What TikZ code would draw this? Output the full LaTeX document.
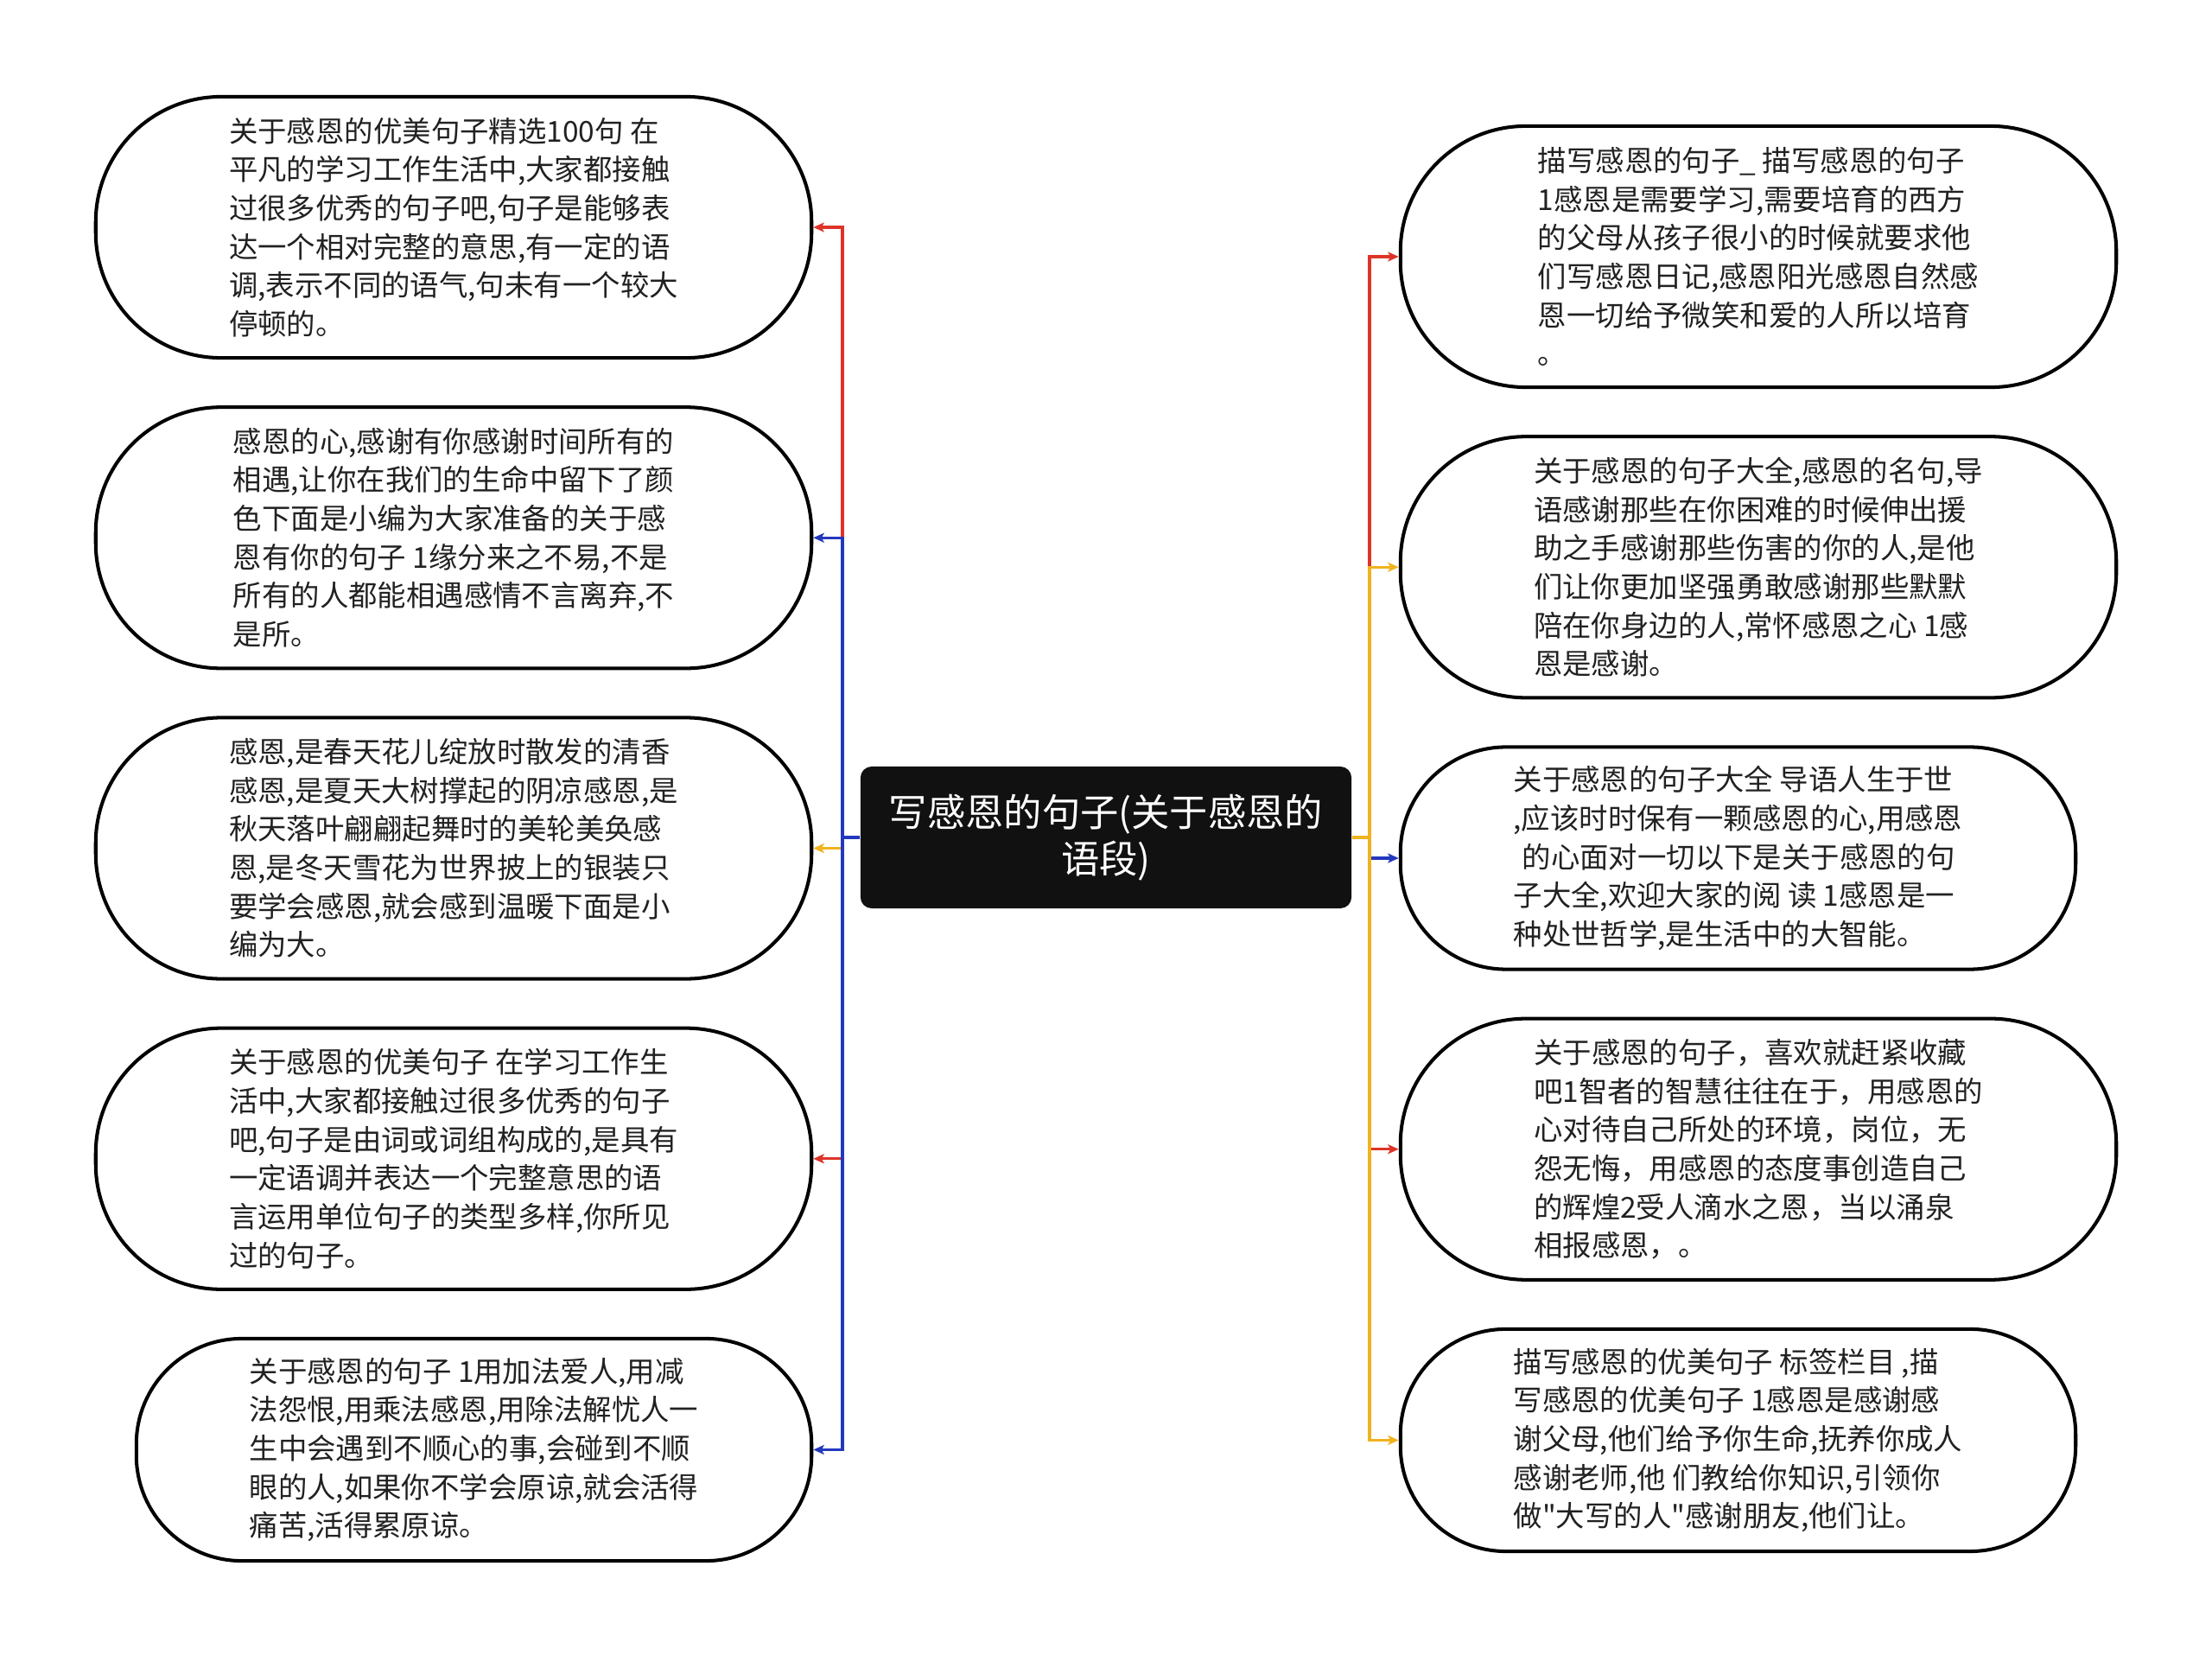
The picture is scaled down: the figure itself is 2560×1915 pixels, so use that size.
\documentclass[tikz,border=0pt]{standalone}
\usepackage{fontspec}
\newfontfamily\cjk{Noto Sans CJK SC}
\usepackage{xcolor}
\usetikzlibrary{positioning,arrows.meta}
\definecolor{lnred}{RGB}{222,52,40}
\definecolor{lnblue}{RGB}{36,56,190}
\definecolor{lnyellow}{RGB}{240,178,30}
\definecolor{rootfill}{RGB}{17,17,17}
\tikzset{
  root/.style  = {rectangle, rounded corners=1.3mm, fill=rootfill, text=white,
                  minimum width=5.68cm, minimum height=1.64cm, align=center,
                  font=\cjk\fontsize{12.6}{15.3}\selectfont, inner sep=0pt},
  leaf/.style  = {rectangle, rounded corners=1.45cm, draw=black, line width=1.15pt,
                  fill=white, minimum width=8.28cm, minimum height=3.02cm,
                  align=left, text=black!87, inner sep=0pt,
                  font=\cjk\fontsize{9.5}{12.7}\selectfont},
  leafs/.style = {leaf, rounded corners=1.22cm, minimum width=7.81cm, minimum height=2.57cm},
  edge/.style  = {-{Stealth[length=1.25mm,width=1.1mm,inset=0.3mm]}, line width=0.95pt},
}

\begin{document}
\begin{tikzpicture}[x=0.01cm, y=-0.01cm, node distance=0.53cm]
  \fill[white] (0,0) rectangle (2560,1915);
  \useasboundingbox (0,0) rectangle (2560,1915);

  \node[root] (root) at (1280,969) {写感恩的句子(关于感恩的\\语段)};
  \coordinate (lt) at (975,969);
  \coordinate (rt) at (1585,969);

  % left branch
  \node[leaf] (l1) at (525,263) {关于感恩的优美句子精选100句 在\\平凡的学习工作生活中,大家都接触\\过很多优秀的句子吧,句子是能够表\\达一个相对完整的意思,有一定的语\\调,表示不同的语气,句未有一个较大\\停顿的。};
  \node[leaf,below=of l1] (l2) {感恩的心,感谢有你感谢时间所有的\\相遇,让你在我们的生命中留下了颜\\色下面是小编为大家准备的关于感\\恩有你的句子 1缘分来之不易,不是\\所有的人都能相遇感情不言离弃,不\\是所。};
  \node[leaf,below=of l2] (l3) {感恩,是春天花儿绽放时散发的清香\\感恩,是夏天大树撑起的阴凉感恩,是\\秋天落叶翩翩起舞时的美轮美奂感\\恩,是冬天雪花为世界披上的银装只\\要学会感恩,就会感到温暖下面是小\\编为大。};
  \node[leaf,below=of l3] (l4) {关于感恩的优美句子 在学习工作生\\活中,大家都接触过很多优秀的句子\\吧,句子是由词或词组构成的,是具有\\一定语调并表达一个完整意思的语\\言运用单位句子的类型多样,你所见\\过的句子。};
  \node[leafs,below=of l4.south east,anchor=north east] (l5) {关于感恩的句子 1用加法爱人,用减\\法怨恨,用乘法感恩,用除法解忧人一\\生中会遇到不顺心的事,会碰到不顺\\眼的人,如果你不学会原谅,就会活得\\痛苦,活得累原谅。};

  % right branch
  \node[leaf] (r1) at (2035,297) {描写感恩的句子\_ 描写感恩的句子\\1感恩是需要学习,需要培育的西方\\的父母从孩子很小的时候就要求他\\们写感恩日记,感恩阳光感恩自然感\\恩一切给予微笑和爱的人所以培育\\。};
  \node[leaf,below=of r1] (r2) {关于感恩的句子大全,感恩的名句,导\\语感谢那些在你困难的时候伸出援\\助之手感谢那些伤害的你的人,是他\\们让你更加坚强勇敢感谢那些默默\\陪在你身边的人,常怀感恩之心 1感\\恩是感谢。};
  \node[leafs,below=of r2.south west,anchor=north west] (r3) {关于感恩的句子大全 导语人生于世\\,应该时时保有一颗感恩的心,用感恩\\\hspace{0.3em}的心面对一切以下是关于感恩的句\\子大全,欢迎大家的阅 读 1感恩是一\\种处世哲学,是生活中的大智能。};
  \node[leaf,below=of r3.south west,anchor=north west] (r4) {关于感恩的句子，喜欢就赶紧收藏\\吧1智者的智慧往往在于，用感恩的\\心对待自己所处的环境，岗位，无\\怨无悔，用感恩的态度事创造自己\\的辉煌2受人滴水之恩，当以涌泉\\相报感恩，。};
  \node[leafs,below=of r4.south west,anchor=north west] (r5) {描写感恩的优美句子 标签栏目 ,描\\写感恩的优美句子 1感恩是感谢感\\谢父母,他们给予你生命,抚养你成人\\感谢老师,他 们教给你知识,引领你\\做"大写的人"感谢朋友,他们让。};

  \draw[edge,lnred] (root.west) -- (lt) |- (l1.east);
  \draw[edge,lnyellow] (root.west) -- (lt) |- (l3.east);
  \draw[edge,lnred] (root.west) -- (lt) |- (l4.east);
  \draw[edge,lnblue] (root.west) -- (lt) |- (l2.east);
  \draw[edge,lnblue] (root.west) -- (lt) |- (l5.east);

  \draw[edge,lnred] (root.east) -- (rt) |- (r1.west);
  \draw[edge,lnblue] (root.east) -- (rt) |- (r3.west);
  \draw[edge,lnred] (root.east) -- (rt) |- (r4.west);
  \draw[edge,lnyellow] (root.east) -- (rt) |- (r2.west);
  \draw[edge,lnyellow] (root.east) -- (rt) |- (r5.west);
\end{tikzpicture}
\end{document}
